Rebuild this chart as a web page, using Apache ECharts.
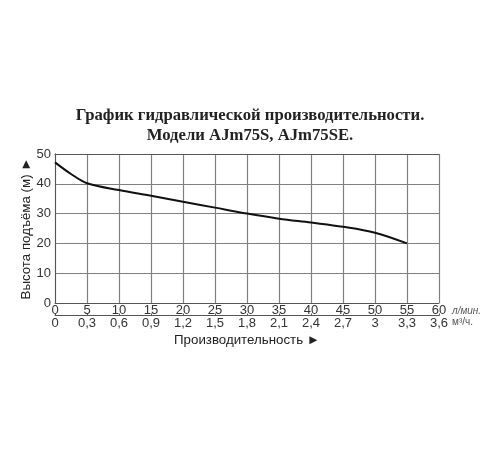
<!DOCTYPE html>
<html>
<head>
<meta charset="utf-8">
<script src="https://cdn.jsdelivr.net/npm/echarts@6/dist/echarts.min.js"></script>
<style>
html,body{margin:0;padding:0;background:#fff;}
#c{width:500px;height:450px;}
</style>
</head>
<body>
<div id="c"></div>
<script>
var titleLines = ['График гидравлической производительности.', 'Модели AJm75S, AJm75SE.'];
var flowLmin = [0, 2.5, 5, 10, 15, 20, 25, 30, 35, 40, 45, 50, 55];
var headM = [47.2, 43.3, 40.2, 37.9, 36.0, 34.0, 32.0, 30.0, 28.3, 27.0, 25.6, 23.6, 20.0];
var tickLmin = ['0','5','10','15','20','25','30','35','40','45','50','55','60'];
var tickM3h = ['0','0,3','0,6','0,9','1,2','1,5','1,8','2,1','2,4','2,7','3','3,3','3,6'];
var yTicks = ['0','10','20','30','40','50'];

var chart = echarts.init(document.getElementById('c'));
var lblFont = {color:'#333', fontSize:13, fontFamily:'Liberation Sans, Arial, sans-serif'};
chart.setOption({
  backgroundColor:'#fff',
  animation:false,
  title:{
    text: titleLines.join('\n'),
    left:'center', top:101,
    textStyle:{fontFamily:'Liberation Serif, Times New Roman, serif', fontWeight:'bold', fontSize:16.7, lineHeight:20, color:'#222'}
  },
  grid:{left:55, right:61, top:154, bottom:147},
  xAxis:[{
    type:'value', min:0, max:60, interval:5, position:'bottom',
    axisLine:{show:true, lineStyle:{color:'#555', width:1}},
    axisTick:{show:false},
    splitLine:{show:true, lineStyle:{color:'#808080', width:1.2}},
    axisLabel:Object.assign({margin:1, formatter:function(v){return tickLmin[Math.round(v/5)];}}, lblFont),
    name:'л/мин.', nameLocation:'end', nameGap:13,
    nameTextStyle:{fontSize:10, color:'#555', fontStyle:'italic', verticalAlign:'top', padding:[3,0,0,0], fontFamily:'Liberation Sans, Arial, sans-serif'}
  },{
    type:'value', min:0, max:60, interval:5, position:'bottom', offset:12.5,
    axisLine:{show:true, onZero:false, lineStyle:{color:'#555', width:1}},
    axisTick:{show:true, inside:true, length:2, lineStyle:{color:'#555'}},
    splitLine:{show:false},
    axisLabel:Object.assign({margin:1, formatter:function(v){return tickM3h[Math.round(v/5)];}}, lblFont),
    name:'м³/ч.', nameLocation:'end', nameGap:13,
    nameTextStyle:{fontSize:10, color:'#555', verticalAlign:'top', padding:[2,0,0,0], fontFamily:'Liberation Sans, Arial, sans-serif'}
  },{
    type:'value', min:0, max:60, position:'bottom', offset:12.5,
    axisLine:{show:false}, axisTick:{show:false}, axisLabel:{show:false}, splitLine:{show:false},
    name:'Производительность ►', nameLocation:'middle', nameGap:18, nameMoveOverlap:false,
    nameTextStyle:{fontSize:13.3, color:'#222', fontFamily:'Liberation Sans, Arial, sans-serif'}
  },{
    type:'value', min:0, max:60, position:'top',
    axisLine:{show:true, lineStyle:{color:'#555'}}, axisTick:{show:false}, axisLabel:{show:false}, splitLine:{show:false}
  }],
  yAxis:[{
    type:'value', min:0, max:50, interval:10,
    axisLine:{show:true, lineStyle:{color:'#555'}},
    axisTick:{show:false},
    splitLine:{show:true, lineStyle:{color:'#808080', width:1.2}},
    axisLabel:Object.assign({margin:4, formatter:function(v){return yTicks[Math.round(v/10)];}}, lblFont),
    name:'Высота подъёма (м) ►', nameLocation:'middle', nameGap:22, nameMoveOverlap:false,
    nameTextStyle:{fontSize:13.3, color:'#222', fontFamily:'Liberation Sans, Arial, sans-serif'}
  },{
    type:'value', min:0, max:50, position:'right',
    axisLine:{show:true, lineStyle:{color:'#555'}}, axisTick:{show:false}, axisLabel:{show:false}, splitLine:{show:false}
  }],
  series:[{
    type:'line', xAxisIndex:0, yAxisIndex:0,
    data: flowLmin.map(function(x,i){return [x, headM[i]];}),
    smooth:0.35, showSymbol:false,
    lineStyle:{color:'#111', width:2}
  }]
});
</script>
</body>
</html>
